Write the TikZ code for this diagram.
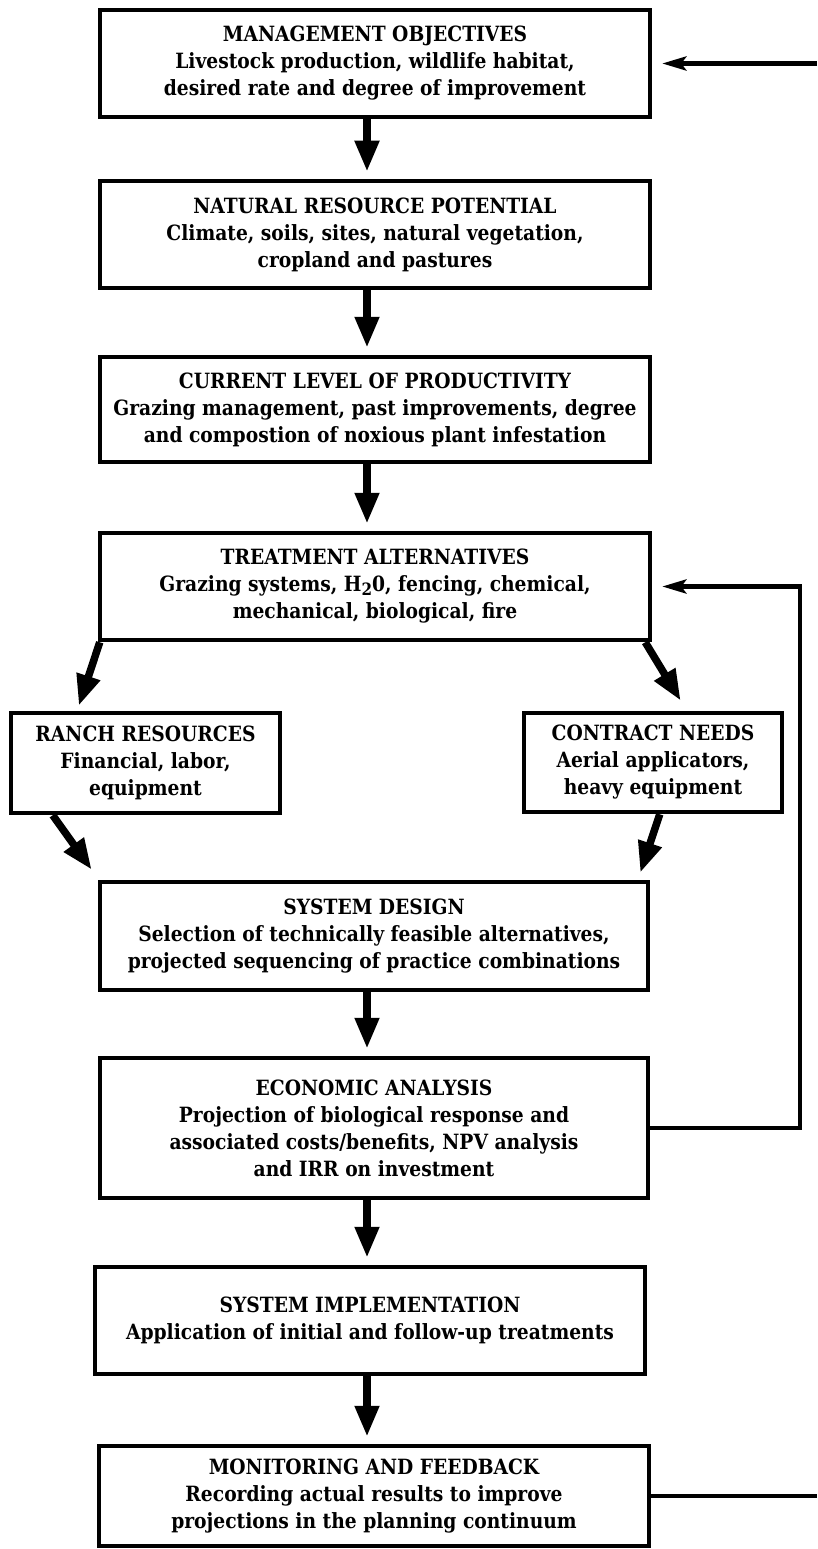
\documentclass[tikz,border=0pt]{standalone}
\usepackage{fontspec}
\setmainfont{DejaVu Serif}[FakeStretch=0.89]
\usetikzlibrary{arrows.meta,calc}

\begin{document}
\begin{tikzpicture}[x=1pt,y=-1pt,
  stagebox/.style={draw=black, line width=4.5pt, align=center, inner sep=0pt,
    font=\bfseries\fontsize{21}{27}\selectfont},
  bigarrow/.style={line width=7.5pt, -{Triangle[length=31pt,width=23pt]}, shorten >=7pt},
  feedarrow/.style={line width=4.5pt, -{Stealth[length=24pt,width=14pt,inset=5pt]}, shorten >=10pt},
  feedline/.style={line width=4.5pt}]
\useasboundingbox (0,0) rectangle (817,1549);
\node[stagebox, minimum width=550pt, minimum height=107pt] (obj) at (375,63.5) {MANAGEMENT OBJECTIVES\\Livestock production, wildlife habitat,\\desired rate and degree of improvement};
\node[stagebox, minimum width=550pt, minimum height=107pt] (pot) at (375,234.5) {NATURAL RESOURCE POTENTIAL\\Climate, soils, sites, natural vegetation,\\cropland and pastures};
\node[stagebox, minimum width=550pt, minimum height=105pt] (prod) at (375,409.5) {CURRENT LEVEL OF PRODUCTIVITY\\Grazing management, past improvements, degree\\and compostion of noxious plant infestation};
\node[stagebox, minimum width=550pt, minimum height=107pt] (treat) at (375,586.5) {TREATMENT ALTERNATIVES\\Grazing systems, H\raisebox{-0.35ex}{\fontsize{17}{17}\selectfont 2}0, fencing, chemical,\\mechanical, biological, fire};
\node[stagebox, minimum width=269pt, minimum height=100pt] (ranch) at (145.5,763) {RANCH RESOURCES\\Financial, labor,\\equipment};
\node[stagebox, minimum width=258pt, minimum height=99pt] (contract) at (653,762.5) {CONTRACT NEEDS\\Aerial applicators,\\heavy equipment};
\node[stagebox, minimum width=548pt, minimum height=108pt] (design) at (374,936) {SYSTEM DESIGN\\Selection of technically feasible alternatives,\\projected sequencing of practice combinations};
\node[stagebox, minimum width=548pt, minimum height=140pt] (econ) at (374,1128) {ECONOMIC ANALYSIS\\Projection of biological response and\\associated costs/benefits, NPV analysis\\and IRR on investment};
\node[stagebox, minimum width=550pt, minimum height=107pt] (impl) at (370,1320.5) {SYSTEM IMPLEMENTATION\\Application of initial and follow-up treatments};
\node[stagebox, minimum width=550pt, minimum height=100pt] (monitor) at (374,1496) {MONITORING AND FEEDBACK\\Recording actual results to improve\\projections in the planning continuum};
\coordinate (rim) at (817,0);
\coordinate (loop) at (800,0);
\draw[bigarrow] ([xshift=-8pt]obj.south) -- ([xshift=-8pt]pot.north);
\draw[bigarrow] ([xshift=-8pt]pot.south) -- ([xshift=-8pt]prod.north);
\draw[bigarrow] ([xshift=-8pt]prod.south) -- ([xshift=-8pt]treat.north);
\draw[bigarrow, shorten >=0pt] ([xshift=2pt]treat.south west) -- ([xshift=70pt,yshift=5pt]ranch.north west);
\draw[bigarrow, shorten >=0pt] ([xshift=-7pt]treat.south east) -- ([xshift=159pt,yshift=10pt]contract.north west);
\draw[bigarrow, shorten >=0pt] ([xshift=44pt]ranch.south west) -- ([xshift=-6pt,yshift=10pt]design.north west);
\draw[bigarrow, shorten >=0pt] ([xshift=138pt]contract.south west) -- ([xshift=-10pt,yshift=7pt]design.north east);
\draw[bigarrow] ([xshift=-7pt]design.south) -- ([xshift=-7pt]econ.north);
\draw[bigarrow] ([xshift=-7pt]econ.south) -- ([xshift=-3pt]impl.north);
\draw[bigarrow] ([xshift=-3pt]impl.south) -- ([xshift=-7pt]monitor.north);
\draw[feedarrow] (obj.east -| rim) -- (obj.east);
\draw[feedarrow] (econ.east) -- (econ.east -| loop) -- (treat.east -| loop) -- (treat.east);
\draw[feedline] (monitor.east) -- (monitor.east -| rim);
\end{tikzpicture}
\end{document}
